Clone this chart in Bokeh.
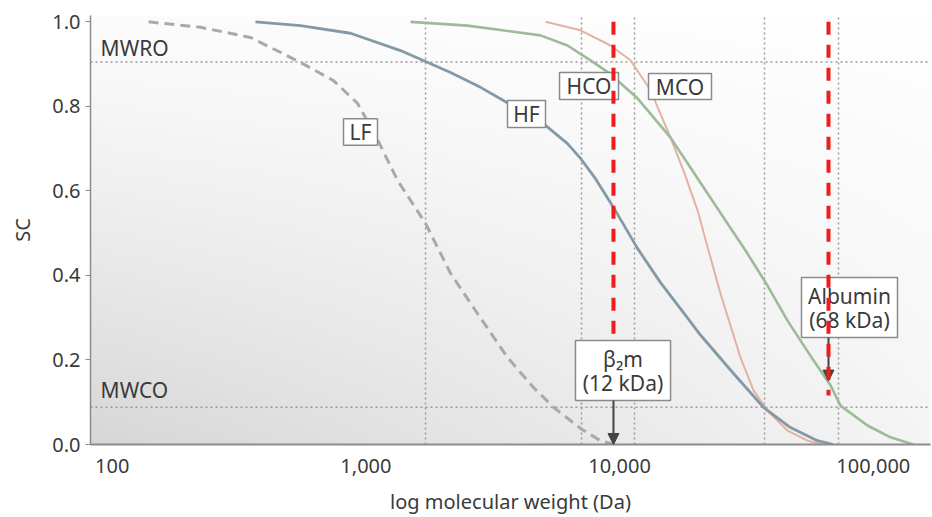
import numpy as np
from bokeh.plotting import figure
from bokeh.models import FixedTicker, NumeralTickFormatter, Arrow, NormalHead
from bokeh.core.properties import value
from bokeh.embed import file_html
from bokeh.resources import INLINE

# ---------------- data: molecular weight (Da) vs sieving coefficient (SC) ----------------
lf_mw = [139, 223, 351, 552, 745, 927, 1091, 1332, 1718, 2156, 2754, 3615, 4577, 5490, 7014, 8408, 9462]
lf_sc = [1.0, 0.987, 0.963, 0.904, 0.861, 0.807, 0.731, 0.625, 0.523, 0.405, 0.310, 0.206, 0.135, 0.088, 0.038, 0.009, 0.0]

hf_mw = [367, 552, 870, 1369, 1718, 2156, 2829, 3486, 5105, 6232, 7014, 8035, 9462, 11765, 14500,
         17860, 20840, 28120, 36920, 47160, 60260, 69690]
hf_sc = [1.0, 0.991, 0.973, 0.932, 0.906, 0.880, 0.845, 0.814, 0.755, 0.712, 0.677, 0.629, 0.561, 0.464,
         0.383, 0.312, 0.259, 0.168, 0.088, 0.040, 0.009, 0.0]

hco_mw = [1499, 2515, 4878, 6232, 7680, 9043, 11765, 15880, 19920, 25680, 31360, 38280, 45900, 58130,
          67820, 74270, 94870, 116900, 144000]
hco_sc = [1.0, 0.991, 0.968, 0.944, 0.909, 0.880, 0.819, 0.726, 0.637, 0.537, 0.459, 0.376, 0.293, 0.199,
          0.140, 0.092, 0.045, 0.017, 0.0]

mco_mw = [5105, 7014, 9209, 11040, 13240, 15880, 17860, 20290, 22410, 24990, 27110, 29970, 33720, 38280,
          45900, 55040, 63640]
mco_sc = [1.0, 0.980, 0.944, 0.909, 0.838, 0.726, 0.648, 0.554, 0.459, 0.357, 0.289, 0.206, 0.128, 0.080,
          0.033, 0.009, 0.0]

thresh_names = ["MWRO", "MWCO"]
thresh_sc = [0.905, 0.088]
cutoff_mw = [1718, 7077, 11450, 37260, 72930]

x_ticks = [100, 1000, 10000, 100000]
y_ticks = [0.0, 0.2, 0.4, 0.6, 0.8, 1.0]

marker_name = ["β₂m", "Albumin"]
marker_kda = ["(12 kDa)", "(68 kDa)"]
marker_mw = [9460, 66600]
red_bottom = [0.258, 0.116]
arrow_end = [0.0, 0.15]

curve_labels = ["LF", "HF", "HCO", "MCO"]

# ---------------- layout constants (annotation boxes) ----------------
X0, X1 = 82.1, 168100
Y0, Y1 = 0.0, 1.015
lab_left = [816, 3615, 5797, 13000]
lab_right = [1111, 5105, 9900, 23030]
lab_bottom = [0.708, 0.750, 0.816, 0.816]
lab_top = [0.771, 0.814, 0.880, 0.878]
mk_left = [6700, 52120]
mk_right = [15880, 124600]
mk_bottom = [0.104, 0.253]
mk_top = [0.246, 0.395]

FONT = "Noto Sans"
TXT = "#3a3a3a"

p = figure(width=932, height=517, x_axis_type="log", x_range=(X0, X1), y_range=(Y0, Y1),
           output_backend="svg", toolbar_location=None,
           min_border_left=90, min_border_right=2, min_border_top=15, min_border_bottom=73,
           background_fill_color="white", border_fill_color="white")
p.outline_line_color = None
p.grid.visible = False

# background gradient (darker towards bottom-left)
nx, ny = 280, 143
u = np.linspace(0, 1, nx)[None, :]
v = np.linspace(1, 0, ny)[:, None]
shade = 255 - 40 * (0.25 + 0.75 * (1 - u)) * (0.08 + 0.92 * v ** 1.2)
img = np.empty((ny, nx), dtype=np.uint32)
view = img.view(dtype=np.uint8).reshape((ny, nx, 4))
sh = np.clip(shade, 0, 255).astype(np.uint8)
view[..., 0] = sh
view[..., 1] = sh
view[..., 2] = sh
view[..., 3] = 255
p.image_rgba(image=[img], x=X0, y=Y0, dw=X1 - X0, dh=Y1 - Y0)

# dotted reference lines
p.segment(x0=[X0] * len(thresh_sc), x1=[X1] * len(thresh_sc), y0=thresh_sc, y1=thresh_sc,
          line_color="#9a9a9a", line_width=1.5, line_dash="2 3")
p.segment(x0=cutoff_mw, x1=cutoff_mw, y0=[Y0] * len(cutoff_mw), y1=[Y1] * len(cutoff_mw),
          line_color="#9a9a9a", line_width=1.5, line_dash="2 3")

# curves
p.line(lf_mw, lf_sc, line_color="#a9a9a9", line_width=3, line_dash="10 6", line_join="round")
p.line(mco_mw, mco_sc, line_color="#e2b3a3", line_width=2, line_join="round")
p.line(hco_mw, hco_sc, line_color="#9dbb98", line_width=2.6, line_join="round")
p.line(hf_mw, hf_sc, line_color="#8499a6", line_width=2.8, line_join="round")

# threshold labels
p.text(x=[90, 90], y=[0.939, 0.130], text=thresh_names, text_font=value(FONT), text_font_size="21px",
       text_align="left", text_baseline="middle", text_color=TXT)

# curve label boxes
p.quad(left=lab_left, right=lab_right, bottom=lab_bottom, top=lab_top,
       fill_color="white", line_color="#8a8a8a", line_width=1.5)
lab_cx = [np.sqrt(a * b) for a, b in zip(lab_left, lab_right)]
lab_cy = [(a + b) / 2 for a, b in zip(lab_bottom, lab_top)]
p.text(x=lab_cx, y=lab_cy, text=curve_labels, text_font=value(FONT), text_font_size="21px",
       text_align="center", text_baseline="middle", text_color=TXT)

# marker boxes
p.quad(left=mk_left, right=mk_right, bottom=mk_bottom, top=mk_top,
       fill_color="white", line_color="#8a8a8a", line_width=1.5)
mk_cx = [np.sqrt(a * b) for a, b in zip(mk_left, mk_right)]
mk_cy = [(a + b) / 2 for a, b in zip(mk_bottom, mk_top)]
p.text(x=mk_cx, y=mk_cy, text=marker_name, y_offset=-12, text_font=value(FONT), text_font_size="21px",
       text_align="center", text_baseline="middle", text_color=TXT)
p.text(x=mk_cx, y=mk_cy, text=marker_kda, y_offset=12, text_font=value(FONT), text_font_size="21px",
       text_align="center", text_baseline="middle", text_color=TXT)

# arrows
for mw, yb, ye in zip(marker_mw, mk_bottom, arrow_end):
    p.add_layout(Arrow(end=NormalHead(size=11, fill_color="#444444", line_color="#444444"),
                       x_start=mw, y_start=yb, x_end=mw, y_end=ye,
                       line_color="#444444", line_width=2))

# red dashed markers
red = p.segment(x0=marker_mw, x1=marker_mw, y0=[1.0] * len(marker_mw), y1=red_bottom,
                line_color="#ee1c1c", line_width=4, line_dash="13 10")
red.level = "overlay"

# axes
xa = p.xaxis[0]
xa.ticker = FixedTicker(ticks=x_ticks, minor_ticks=[])
xa.formatter = NumeralTickFormatter(format="0,0")
xa.major_tick_line_color = None
xa.minor_tick_line_color = None
xa.axis_line_color = "#8c8c8c"
xa.axis_line_width = 2
xa.major_label_standoff = 8
xa.axis_label = "log molecular weight (Da)"
xa.axis_label_standoff = 12

ya = p.yaxis[0]
ya.ticker = FixedTicker(ticks=y_ticks, minor_ticks=[])
ya.formatter = NumeralTickFormatter(format="0.0")
ya.major_tick_in = 0
ya.major_tick_out = 5
ya.major_tick_line_color = "#8c8c8c"
ya.minor_tick_line_color = None
ya.axis_line_color = "#8c8c8c"
ya.axis_line_width = 1.5
ya.major_label_standoff = 5
ya.axis_label = "SC"
ya.axis_label_standoff = 13

for ax in (xa, ya):
    ax.major_label_text_font = FONT
    ax.major_label_text_font_size = "20px"
    ax.major_label_text_color = TXT
    ax.axis_label_text_font = FONT
    ax.axis_label_text_font_size = "20px"
    ax.axis_label_text_font_style = "normal"
    ax.axis_label_text_color = TXT

open("out.html", "w").write(file_html(p, INLINE))
